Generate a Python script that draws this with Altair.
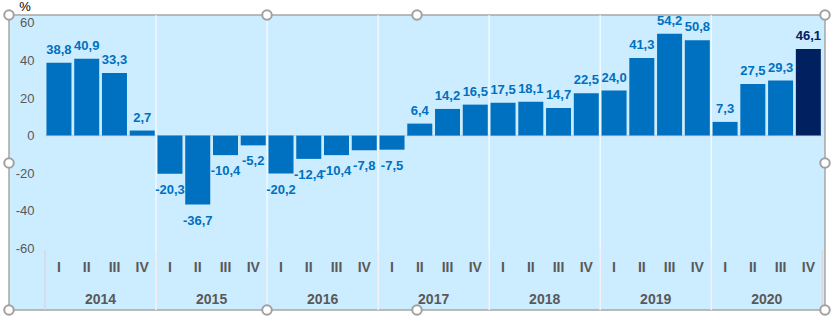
import altair as alt
import pandas as pd

years = ["2014", "2015", "2016", "2017", "2018", "2019", "2020"]
quarters = ["I", "II", "III", "IV"]
values = [
    38.8, 40.9, 33.3, 2.7,
    -20.3, -36.7, -10.4, -5.2,
    -20.2, -12.4, -10.4, -7.8,
    -7.5, 6.4, 14.2, 16.5,
    17.5, 18.1, 14.7, 22.5,
    24.0, 41.3, 54.2, 50.8,
    7.3, 27.5, 29.3, 46.1,
]
y_ticks = [-60, -40, -20, 0, 20, 40, 60]

n = len(values)
rows = []
for i, v in enumerate(values):
    rows.append({
        "idx": i,
        "year": years[i // 4],
        "q": quarters[i % 4],
        "value": v,
        "zero": 0,
        "label": f"{v:.1f}".replace(".", ","),
        "last": "y" if i == n - 1 else "n",
    })
df = pd.DataFrame(rows)
pos_df = df[df["value"] >= 0]
neg_df = df[df["value"] < 0]

year_df = pd.DataFrame({"year": years, "center": [k * 4 + 1.5 for k in range(len(years))]})
bound_df = pd.DataFrame({"b": [k * 4 - 0.5 for k in range(len(years) + 1)]})
inner_df = pd.DataFrame({"b": [k * 4 - 0.5 for k in range(1, len(years))]})
zero_df = pd.DataFrame({"xa": [-0.5], "xb": [n - 0.5], "z": [0]})

FONT = "Liberation Sans"
BLUE = "#0070C0"
NAVY = "#002060"
GREY = "#595959"

xs = alt.Scale(domain=[-1.8, 27.6], nice=False, zero=False, padding=0)
ys = alt.Scale(domain=[-92.9, 64.25], nice=False, zero=False, padding=0)
cs = alt.Scale(domain=["n", "y"], range=[BLUE, NAVY])

zero_line = alt.Chart(zero_df).mark_rule(color="#D0D0D0", strokeWidth=1.2).encode(
    x=alt.X("xa:Q", scale=xs, axis=None), x2="xb:Q", y=alt.Y("z:Q", scale=ys)
)

seps = alt.Chart(bound_df).mark_rule(color="#E3CDD0", strokeWidth=1).encode(
    x=alt.X("b:Q", scale=xs, axis=None), y=alt.value(235), y2=alt.value(295)
)

bars = alt.Chart(df).mark_bar(size=25).encode(
    x=alt.X("idx:Q", scale=xs, axis=None),
    y=alt.Y("value:Q", scale=ys, axis=alt.Axis(
        values=y_ticks, grid=False, domain=False, ticks=False, labelPadding=0,
        offset=-25, labelColor=GREY, labelFont=FONT, labelFontSize=13, title=None,
        labelExpr="datum.value + ''")),
    y2="zero:Q",
    color=alt.Color("last:N", scale=cs, legend=None),
)

white_lines = alt.Chart(inner_df).mark_rule(color="white", strokeWidth=1.5, opacity=0.7).encode(
    x=alt.X("b:Q", scale=xs, axis=None), y=alt.value(0), y2=alt.value(295)
)

pos_labels = alt.Chart(pos_df).mark_text(
    baseline="alphabetic", dy=-9, fontWeight="bold", fontSize=13, font=FONT
).encode(x=alt.X("idx:Q", scale=xs, axis=None), y=alt.Y("value:Q", scale=ys),
         text="label:N", color=alt.Color("last:N", scale=cs, legend=None))

neg_labels = alt.Chart(neg_df).mark_text(
    baseline="top", dy=10, fontWeight="bold", fontSize=13, font=FONT
).encode(x=alt.X("idx:Q", scale=xs, axis=None), y=alt.Y("value:Q", scale=ys),
         text="label:N", color=alt.Color("last:N", scale=cs, legend=None))

q_labels = alt.Chart(df).mark_text(
    baseline="middle", fontWeight="bold", fontSize=14, font=FONT, color=GREY
).encode(x=alt.X("idx:Q", scale=xs, axis=None), y=alt.value(253), text="q:N")

yr_labels = alt.Chart(year_df).mark_text(
    baseline="middle", fontWeight="bold", fontSize=14, font=FONT, color=GREY
).encode(x=alt.X("center:Q", scale=xs, axis=None), y=alt.value(285), text="year:N")

one = pd.DataFrame({"a": [0]})
pct = alt.Chart(one).mark_text(text="%", fontSize=13, font=FONT, color="black",
                               baseline="alphabetic").encode(x=alt.value(16), y=alt.value(-4))

handles = []
for hx, hy in [(0, 0), (258, 0), (408, 0), (816, 0), (0, 148), (816, 148),
               (0, 295), (258, 295), (408, 295), (816, 295)]:
    handles.append(alt.Chart(one).mark_circle(
        fill="white", stroke="#A0A0A0", strokeWidth=2, size=90, opacity=1
    ).encode(x=alt.value(hx), y=alt.value(hy)))

chart = alt.layer(
    zero_line, seps, bars, white_lines, pos_labels, neg_labels, q_labels, yr_labels, pct, *handles
).properties(
    width=816, height=295,
    autosize=alt.AutoSizeParams(type="none"),
    padding={"left": 9, "top": 15, "right": 15, "bottom": 11},
).configure_view(
    fill="#CCECFF", stroke="#A6A6A6", strokeWidth=1.5
)

chart.save("out.html", embed_options={"renderer": "svg", "actions": False})
